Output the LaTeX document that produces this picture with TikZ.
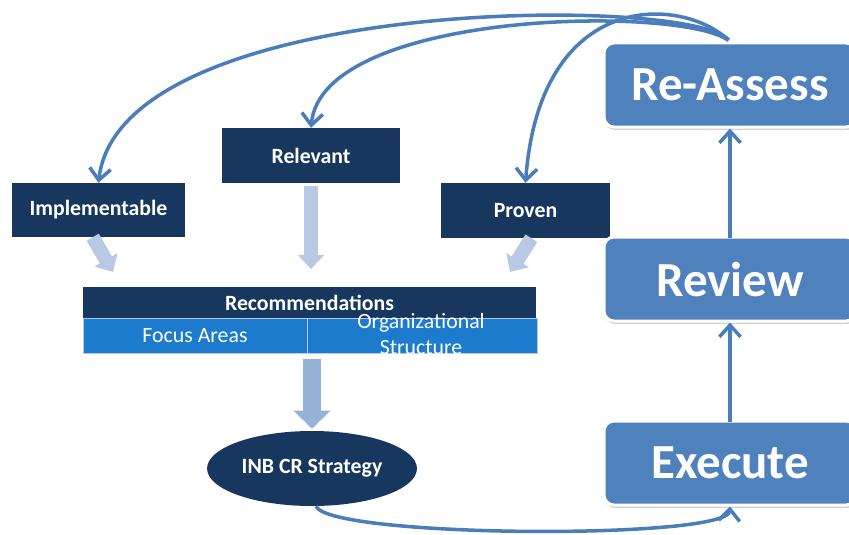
\documentclass[tikz,border=0pt]{standalone}
\usepackage{fontspec}
\setmainfont{Carlito}
\usetikzlibrary{arrows.meta,shadows,shapes.geometric}
\newlength\ux \setlength\ux{0.03cm}
\definecolor{navy}{HTML}{17375E}
\definecolor{cellblue}{HTML}{1C7BCD}
\definecolor{steel}{HTML}{4F81BD}
\definecolor{arcblue}{HTML}{4A7EBB}
\definecolor{pale}{HTML}{B8C9E3}
\definecolor{pale2}{HTML}{95B3D7}
\tikzset{   tag/.style = {fill=navy, text=white, rectangle, inner sep=0pt, font=\fontsize{18.6}{20}\selectfont\bfseries},
            cell/.style = {draw=pale, fill=cellblue, rectangle, inner sep=0pt, minimum height=35\ux},
            stage/.style = {draw=white, line width=3\ux, fill=steel, rectangle, rounded corners=10\ux, text=white, minimum width=252\ux, minimum height=84\ux, font=\fontsize{41.8}{44}\selectfont\bfseries, drop shadow={shadow xshift=1\ux, shadow yshift=-3\ux, opacity=0.35}},
            loop/.style = {draw=arcblue, line width=3pt, -{Straight Barb[length=10pt, width=18pt, line width=3pt]}},
            fat/.style = {draw=pale, line width=12pt, -{Triangle[length=12pt, width=22pt]}}}

\begin{document}
\begin{tikzpicture}[x=1\ux, y=-1\ux]
    \clip(0,0)rectangle(849,534);
    \node[tag, minimum width=173\ux, minimum height=54\ux](imp)at(98.5,210){Implementable};
    \node[tag, minimum width=178\ux, minimum height=55\ux](rel)at(311,155.5){Relevant};
    \node[tag, minimum width=169\ux, minimum height=55\ux](pro)at(525.5,210.5){Proven};

    \node[tag, minimum width=453\ux, minimum height=31\ux](rec)at(309.5,302.5){Recommendations};
    \node[cell, minimum width=224\ux, text=white, font=\fontsize{18.6}{20}\selectfont](foc)at(195,335.5){Focus Areas};
    \node[cell, minimum width=230\ux](org)at(422,335.5){};
    \node[text=white, align=center, inner sep=0pt, font=\fontsize{18.6}{22.5}\selectfont](orgt)at(421,334){Organizational\\Structure};

    \node[ellipse, fill=navy, text=white, minimum width=199\ux, minimum height=75\ux, font=\fontsize{18.6}{20}\selectfont\bfseries](inb)at(312,468.5){INB CR Strategy};

    \node[stage](rea)at(730,85){Re-Assess};
    \node[stage](rev)at(730,279){Review};
    \node[stage](exe)at(730,463){Execute};

    \coordinate(i1)at(113,272);
    \coordinate(r1)at(311,269);
    \coordinate(p1)at(510,272);
    \coordinate(r2)at(312,359);
    \draw[fat](imp.258)--(i1);
    \draw[fat, shorten <=3\ux](rel.south)--(r1);
    \draw[fat](pro.282)--(p1);
    \draw[fat, draw=pale2, line width=16pt, -{Triangle[length=15.4pt, width=30.7pt]}, shorten >=2\ux](r2)--(inb.north);

    \draw[loop, shorten <=-2\ux](exe.north)--(rev.south);
    \draw[loop, shorten <=-2\ux](rev.north)--(rea.south);
    \draw[loop](inb.276)..controls(330,538)and(728,540)..(exe.south);

    \draw[loop, shorten <=2\ux](rea.north)..controls(690,-5)and(120,-5)..(imp.north);
    \draw[loop, shorten <=2\ux](rea.north)..controls(680,5)and(322,10)..(rel.north);
    \draw[loop, shorten <=2\ux](rea.north)..controls(680,-5)and(540,-10)..(pro.north);
\end{tikzpicture}
\end{document}
